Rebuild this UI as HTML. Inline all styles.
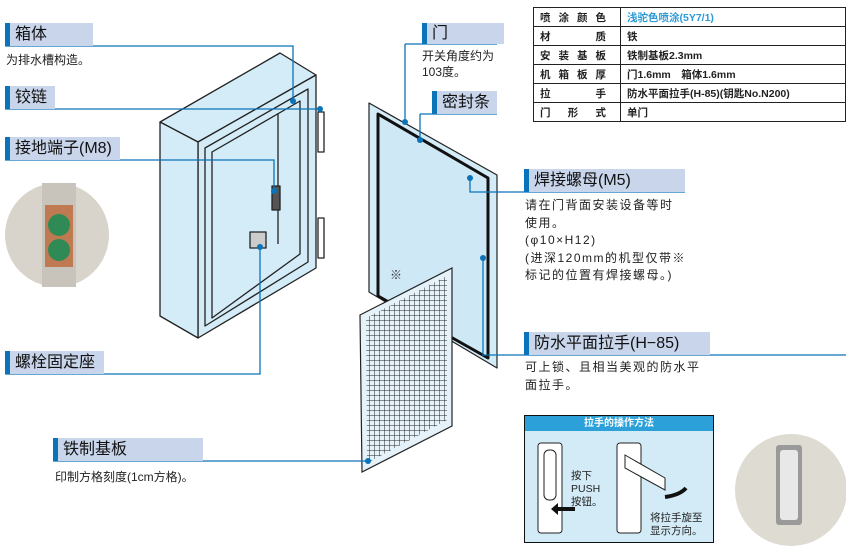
<!DOCTYPE html>
<html><head><meta charset="utf-8"><style>
*{margin:0;padding:0;box-sizing:border-box}
body{width:846px;height:549px;background:#fff;position:relative;overflow:hidden;font-family:"Liberation Sans","Noto Sans CJK SC",sans-serif;color:#222}
.lb{position:absolute;background:#c8d5ea;border-left:5px solid #0b73b9;font-size:16px;line-height:23px;padding-left:5px;height:23px;color:#111}
.t{position:absolute;font-size:12px;line-height:17px;color:#222}
table{position:absolute;left:533px;top:7px;border-collapse:collapse;font-size:10.5px;font-weight:bold}
td{border:1px solid #222;height:19px;padding:0 6px;white-space:nowrap}
td.k{width:77px;letter-spacing:8px;text-align:justify;text-align-last:justify}
</style></head><body>
<svg width="846" height="549" style="position:absolute;left:0;top:0">
<circle cx="57" cy="235" r="52" fill="#d8d4cc"/>
<rect x="42" y="183" width="34" height="104" fill="#c9c4bb"/>
<rect x="45" y="205" width="28" height="62" fill="#c07a52"/>
<circle cx="59" cy="225" r="11" fill="#2f8a55"/><circle cx="59" cy="250" r="11" fill="#2f8a55"/>
<circle cx="791" cy="490" r="56" fill="#dedbd2"/>
<rect x="776" y="445" width="26" height="80" rx="3" fill="#9a9a9a"/><rect x="780" y="450" width="18" height="70" rx="3" fill="#e8e8e8"/>
<g stroke="#222" stroke-width="1.3" fill="#d4ecf8" stroke-linejoin="round">
<polygon points="160,122 280,53 316,75 198,142"/>
<polygon points="198,142 316,75 316,268 198,338"/>
<polygon points="160,122 198,142 198,338 160,316"/>
<polygon points="205,148 308,89 308,262 205,326" fill="none"/>
<polygon points="212,152 300,101 300,254 212,318" fill="none"/>
<line x1="278" y1="114" x2="278" y2="244"/>
<rect x="318" y="112" width="6" height="40" fill="#fff"/><rect x="318" y="218" width="6" height="40" fill="#fff"/>
<rect x="272" y="186" width="8" height="24" fill="#555"/>
<rect x="250" y="232" width="16" height="16" fill="#ccc"/>
</g>
<g stroke="#222" stroke-width="1.2" stroke-linejoin="round">
<polygon points="369,103 497,175 497,368 369,292" fill="#d4ecf8"/>
<polygon points="378,114 488,178 488,358 378,296" fill="#cfe8f6" stroke="#111" stroke-width="3"/>
</g>
<defs><pattern id="g" width="5" height="5" patternUnits="userSpaceOnUse"><path d="M0 0H5V5" fill="none" stroke="#222" stroke-width="1"/></pattern></defs>
<polygon points="360,315 452,268 452,426 362,472" fill="#e6f2fa" stroke="#222" stroke-width="1.2"/>
<polygon points="366,318 447,276 447,420 367,463" fill="url(#g)"/>
<text x="390" y="279" font-size="12" fill="#333">※</text>
<g fill="none" stroke="#0b73b9" stroke-width="1.3">
<polyline points="5,46 293,46 293,101"/>
<polyline points="5,109 320,109"/>
<polyline points="5,160 274,160 274,191"/>
<polyline points="5,374 260,374 260,247"/>
<polyline points="53,461 368,461"/>
<polyline points="405,44 405,122"/><line x1="405" y1="44" x2="497" y2="44"/>
<polyline points="420,114 420,140"/><line x1="420" y1="114" x2="497" y2="114"/>
<polyline points="470,178 470,192 685,192"/>
<polyline points="483,258 483,355 846,355"/>
</g>
<g fill="#0b73b9">
<circle cx="293" cy="101" r="3"/><circle cx="320" cy="109" r="3"/><circle cx="274" cy="191" r="3"/><circle cx="260" cy="247" r="3"/><circle cx="368" cy="461" r="3"/><circle cx="405" cy="122" r="3"/><circle cx="420" cy="140" r="3"/><circle cx="470" cy="178" r="3"/><circle cx="483" cy="258" r="3"/>
</g>
<rect x="524.5" y="415.5" width="189" height="127" fill="#d2ebf6" stroke="#111"/>
<rect x="525" y="416" width="188" height="15" fill="#2ba0d9"/>
<g stroke="#222" fill="#fff"><rect x="538" y="443" width="24" height="90" rx="3"/><rect x="544" y="450" width="12" height="50" rx="5"/>
<rect x="617" y="443" width="24" height="90" rx="3"/><polygon points="625,455 665,478 665,490 625,468"/></g>
<path d="M575 509 H555" stroke="#111" stroke-width="4"/><polygon points="551,509 558,503 558,515" fill="#111"/>
<path d="M665 497 Q680 495 686 488" stroke="#111" stroke-width="4" fill="none"/>
</svg>
<div class="lb" style="left:5px;top:23px;width:88px">箱体</div>
<div class="t" style="left:6px;top:52px">为排水槽构造。</div>
<div class="lb" style="left:5px;top:86px;width:50px">铰链</div>
<div class="lb" style="left:5px;top:137px;width:115px">接地端子(M8)</div>
<div class="lb" style="left:5px;top:351px;width:99px">螺栓固定座</div>
<div class="lb" style="left:53px;top:438px;width:150px">铁制基板</div>
<div class="t" style="left:55px;top:469px">印制方格刻度(1cm方格)。</div>
<div class="lb" style="left:422px;top:23px;width:82px;height:21px;line-height:21px">门</div>
<div class="t" style="left:422px;top:48px;line-height:16px">开关角度约为<br>103度。</div>
<div class="lb" style="left:432px;top:91px;width:65px">密封条</div>
<div class="lb" style="left:524px;top:169px;width:161px">焊接螺母(M5)</div>
<div class="t" style="left:525px;top:197px;line-height:17.5px;letter-spacing:1.5px">请在门背面安装设备等时<br>使用。<br>(φ10×H12)<br>(进深120mm的机型仅带※<br>标记的位置有焊接螺母。)</div>
<div class="lb" style="left:524px;top:332px;width:186px">防水平面拉手(H−85)</div>
<div class="t" style="left:525px;top:359px;line-height:17.5px;letter-spacing:1.5px">可上锁、且相当美观的防水平<br>面拉手。</div>
<table>
<tr><td class="k">喷涂颜色</td><td style="color:#2a9ad6;width:236px">浅驼色喷涂(5Y7/1)</td></tr>
<tr><td class="k">材质</td><td>铁</td></tr>
<tr><td class="k">安装基板</td><td>铁制基板2.3mm</td></tr>
<tr><td class="k">机箱板厚</td><td>门1.6mm　箱体1.6mm</td></tr>
<tr><td class="k">拉手</td><td>防水平面拉手(H-85)(钥匙No.N200)</td></tr>
<tr><td class="k">门形式</td><td>单门</td></tr>
</table>
<div style="position:absolute;left:525px;top:416px;width:188px;text-align:center;color:#fff;font-size:10px;font-weight:bold;line-height:15px">拉手的操作方法</div>
<div class="t" style="left:571px;top:470px;font-size:10.5px;line-height:13px">按下<br>PUSH<br>按钮。</div>
<div class="t" style="left:650px;top:512px;font-size:10.5px;line-height:13px">将拉手旋至<br>显示方向。</div>
</body></html>
